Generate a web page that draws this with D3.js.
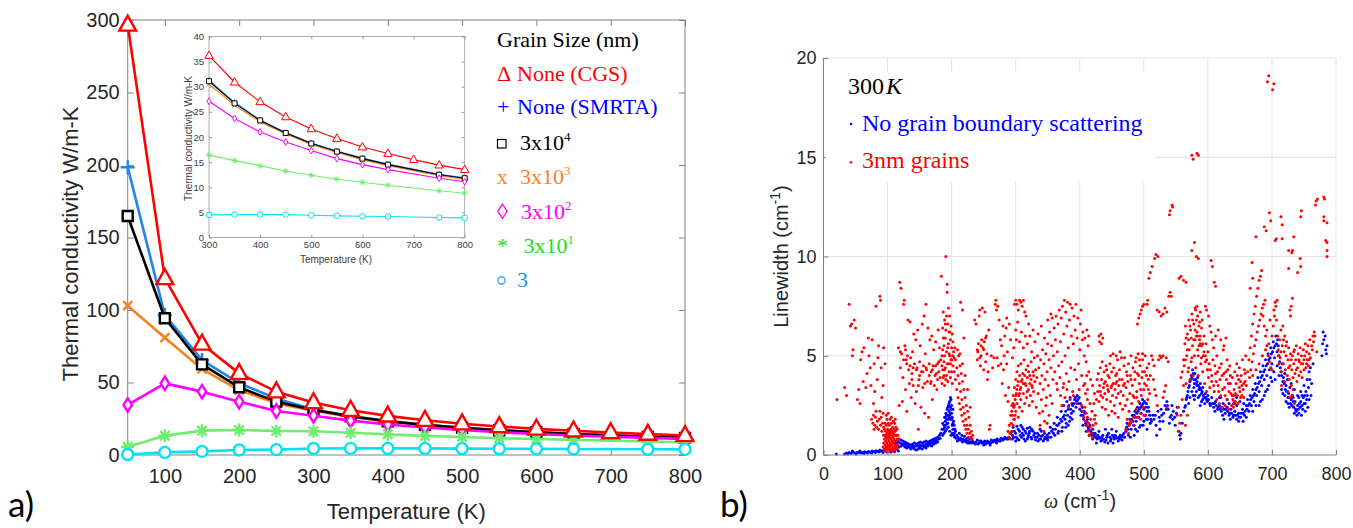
<!DOCTYPE html>
<html><head><meta charset="utf-8">
<script src="https://cdn.jsdelivr.net/npm/d3@7/dist/d3.min.js"></script>
<style>html,body{margin:0;padding:0;background:#fff;}svg{display:block;}</style>
</head><body>
<svg id="chart" width="1353" height="528"></svg>
<script>
// ================= Panel a) data =================
const temperatures = [50,100,150,200,250,300,350,400,450,500,550,600,650,700,750,800];
const kNoneCGS   = [296.6,121.8,76.6,56.3,43.7,36.2,30.9,27.0,24.0,21.6,19.7,18.0,16.7,15.5,14.4,13.5];
const kNoneSMRTA = [198.5,96.5,65.5,49.5,39.0,31.3,26.9,23.4,20.9,18.8,17.2,15.8,14.6,null,12.6,11.9];
const k3e4 = [164.8,94.3,62.5,46.7,36.8,31.1,26.7,23.3,20.8,18.7,17.1,15.7,14.5,null,12.5,11.8];
const k3e3 = [103.0,80.9,59.3,44.8,35.6,30.5,26.3,23.0,20.6,18.5,16.9,15.5,14.3,null,12.3,11.6];
const k3e2 = [34.5,49.4,43.7,36.8,30.3,27.1,23.7,21.0,19.0,17.3,15.7,14.5,13.5,null,11.8,11.1];
const k3e1 = [5.7,13.3,16.8,17.2,16.6,16.4,15.3,14.3,13.2,12.4,11.6,11.0,10.4,null,9.3,8.8];
const k3   = [0.3,1.8,2.5,3.4,3.7,4.5,4.56,4.56,4.56,4.43,4.3,4.23,4.17,null,3.97,3.9];

const mainTicksX  = [100,200,300,400,500,600,700,800];
const mainTicksY  = [0,50,100,150,200,250,300];
const insetTicksX = [300,400,500,600,700,800];
const insetTicksY = [0,5,10,15,20,25,30,35,40];
const legendTitleA = "Grain Size (nm)";
const legendLabelsA = [["None (CGS)",""],["None (SMRTA)",""],["3x10","4"],["3x10","3"],["3x10","2"],["3x10","1"],["3",""]];
const legendSymbolsA = ["\u0394","+","","x","\u25CA","*",""];

// ================= Panel b) data =================
const tickB_X = [0,100,200,300,400,500,600,700,800];
const tickB_Y = [0,5,10,15,20];
const legendLabelsB = ["No grain boundary scattering","3nm grains"];

const noGrainBoundary = [
[20,0.05],[33,0.05],[36,0.1],[40,0.12],[43,0.08],[46,0.15],[49,0.1],[52,0.12],[55,0.14],[58,0.1],[61,0.13],[64,0.16],[67,0.12],[70,0.18],[73,0.15],[76,0.2],[79,0.17],[82,0.22],[85,0.18],[88,0.25],[91,0.2],[94,0.24],[97,0.22],[100,0.25],[103,0.2],[106,0.27],[109,0.25],[112,0.3],[115,0.28],
[38,0.05],[45,0.2],[51,0.05],[57,0.2],[63,0.08],[69,0.1],[75,0.1],[81,0.12],[87,0.15],[93,0.12],[99,0.15],[105,0.15],[111,0.18],[117,0.2],
[112,0.55],[115,0.7],[118,0.8],[121,0.75],[124,0.7],[127,0.65],[130,0.6],[133,0.55],[136,0.5],[139,0.55],[142,0.6],[145,0.55],[148,0.6],[151,0.65],[154,0.6],[157,0.65],[160,0.7],[163,0.65],[166,0.7],[169,0.75],[172,0.8],[175,0.85],[178,0.9],[181,1.0],
[118,0.4],[121,0.45],[124,0.5],[127,0.4],[130,0.35],[133,0.4],[136,0.3],[139,0.35],[142,0.3],[145,0.25],[148,0.3],[151,0.35],[154,0.3],[157,0.4],[160,0.35],[163,0.45],[166,0.5],[169,0.45],[172,0.55],[175,0.6],[178,0.65],[140,0.45],[150,0.5],[160,0.55],[170,0.6],
[114,0.6],[117,0.65],[120,0.6],[123,0.55],[126,0.55],[129,0.5],[132,0.45],[135,0.4],[138,0.45],[141,0.4],[144,0.45],[147,0.45],[150,0.4],[153,0.45],[156,0.5],[159,0.45],[162,0.55],[165,0.6],[168,0.6],[171,0.7],[174,0.7],[177,0.75],[180,0.8],[182,0.85],
[183,1.1],[185,1.3],[186,1.6],[188,1.5],[189,1.9],[190,1.7],[191,2.1],[192,1.8],[193,2.3],[194,2.0],[195,2.5],[196,2.2],[197,2.7],[198,2.4],[199,2.8],[200,2.5],[200,2.1],[201,1.9],[202,2.3],[203,1.7],[204,1.5],[205,1.3],[206,1.2],[195,1.4],[197,1.2],[199,1.0],[201,1.1],[203,1.0],[205,0.9],[192,1.3],[190,1.2],[188,1.1],[186,1.0],[194,1.6],[198,1.8],[202,1.6],
[187,1.3],[189,1.4],[191,1.5],[193,1.6],[195,1.8],[196,1.9],[197,2.0],[198,2.1],[199,2.3],[200,1.8],[201,1.5],[202,1.3],[204,1.1],[196,2.6],[198,2.9],[194,2.4],[192,2.0],[190,1.9],
[208,1.0],[210,0.9],[212,1.1],[214,0.85],[216,1.0],[218,0.8],[220,0.95],[222,0.75],[224,0.85],[226,0.7],[228,0.8],[230,0.65],[209,0.7],[213,0.75],[217,0.65],[221,0.7],[225,0.6],
[207,0.85],[211,0.8],[215,0.75],[219,0.7],[223,0.65],[227,0.6],[231,0.6],[234,0.65],[237,0.55],[243,0.6],[246,0.7],[249,0.6],[252,0.7],[255,0.6],[258,0.65],[261,0.6],[264,0.7],[267,0.75],[270,0.7],[273,0.75],[276,0.7],[279,0.8],[282,0.8],[285,0.85],[288,0.8],
[232,0.7],[235,0.6],[238,0.65],[241,0.55],[244,0.7],[247,0.6],[250,0.65],[253,0.55],[256,0.7],[259,0.6],[262,0.75],[265,0.65],[268,0.7],[271,0.8],[274,0.7],[277,0.85],[280,0.75],[283,0.9],[286,0.8],[240,0.75],[250,0.5],[260,0.5],[270,0.6],
[289,0.9],[292,1.1],[295,0.8],[298,1.2],[301,0.9],[304,1.3],[307,1.0],[310,1.4],[313,0.8],[316,1.1],[319,0.9],[322,1.2],[325,0.8],[328,1.0],[331,0.75],[334,1.1],[337,0.8],[340,0.95],[343,0.7],[346,0.9],[349,1.0],[295,1.0],[300,0.7],[305,0.75],[310,1.1],[315,0.7],[320,1.0],[325,1.3],[330,0.9],[335,0.7],[340,1.2],[345,0.8],[350,0.75],[312,1.3],[318,1.35],[302,1.45],
[291,0.85],[294,1.2],[297,0.9],[300,1.1],[303,0.8],[306,1.2],[309,0.9],[312,1.0],[315,1.2],[318,0.8],[321,1.1],[324,0.9],[327,1.2],[330,1.1],[333,0.9],[336,1.0],[339,0.8],[342,1.0],[345,1.1],[348,0.85],[351,0.9],[296,1.4],[308,1.5],[322,1.4],[338,1.3],
[352,1.1],[355,0.9],[358,1.3],[361,1.0],[364,1.5],[367,1.2],[370,1.8],[373,1.4],[376,2.0],[379,1.6],[382,2.3],[385,1.9],[388,2.6],[390,2.2],[392,2.8],[394,2.4],[396,3.0],[398,2.6],[400,2.3],[371,2.2],[375,2.5],[380,2.7],[385,2.9],[360,1.6],[365,1.9],[354,1.4],[382,1.5],[388,1.8],
[356,1.2],[359,1.1],[362,1.3],[366,1.5],[368,1.6],[372,1.7],[374,1.9],[377,1.8],[378,2.2],[381,2.0],[383,2.5],[386,2.3],[387,2.1],[389,2.5],[391,2.6],[393,2.9],[395,2.7],[397,2.8],[399,2.9],[384,1.7],[378,1.4],[372,1.2],[366,1.1],
[402,2.0],[404,2.4],[406,1.8],[408,2.1],[410,1.5],[412,1.8],[414,1.3],[416,1.5],[418,1.1],[420,1.3],[422,0.9],[405,1.5],[410,1.2],[415,1.0],[420,0.8],
[401,2.6],[403,2.2],[405,2.0],[407,2.2],[409,1.6],[411,1.7],[413,1.4],[417,1.2],[419,1.0],[421,1.1],[423,1.0],[425,0.9],[428,1.0],[431,0.85],[434,0.9],[437,0.8],[441,0.75],[443,1.0],[447,0.9],[449,0.8],[453,0.9],[455,1.0],[458,0.85],[462,0.8],[465,0.9],[467,1.0],[470,0.9],
[424,1.1],[427,0.8],[430,1.2],[433,0.7],[436,1.0],[439,0.65],[442,0.9],[445,1.1],[448,0.7],[451,1.0],[454,0.8],[457,1.2],[460,0.7],[463,1.0],[466,0.75],[469,1.1],[426,0.6],[435,0.75],[444,0.6],[452,0.6],[461,0.9],[440,1.3],[450,1.3],[430,0.9],[456,0.95],
[472,1.2],[474,1.6],[476,1.0],[478,1.8],[480,1.3],[482,2.0],[484,1.5],[486,2.2],[488,1.7],[490,2.4],[492,1.9],[494,2.6],[496,2.1],[498,2.8],[500,2.3],[502,2.0],[504,2.6],[506,1.8],[508,2.2],[510,1.6],[490,1.2],[495,1.5],[500,1.7],[485,1.0],[505,1.3],[479,0.9],
[473,1.4],[475,1.3],[477,1.5],[479,1.6],[481,1.8],[483,1.7],[485,2.0],[487,1.9],[489,2.1],[491,2.2],[493,2.3],[495,2.4],[497,2.5],[499,2.6],[501,2.7],[503,2.4],[505,2.2],[507,2.4],[509,2.0],[511,1.8],[487,1.3],[493,1.4],[499,1.5],[504,1.8],
[514,2.0],[516,1.8],[519,1.5],[522,2.2],[525,1.3],[528,2.0],[530,1.7],[533,2.5],[536,2.7],[538,2.3],[540,1.6],[543,2.0],[546,2.2],[549,1.5],[552,2.4],[554,1.2],[556,1.0],[557,0.8],[558,1.1],[560,1.6],[562,2.2],[520,1.0],[525,1.7],
[512,1.7],[518,2.0],[524,1.9],[527,2.3],[531,2.1],[535,2.3],[537,2.5],[541,1.9],[545,1.8],[548,1.9],[551,2.1],[544,2.5],
[564,2.4],[566,2.8],[568,3.0],[570,3.4],[572,3.7],[574,4.0],[576,4.3],[578,3.8],[580,4.1],[582,3.6],[584,3.9],[586,3.3],[588,3.6],[590,3.1],[592,3.4],[594,2.9],[596,3.1],[598,2.8],[600,3.0],[575,3.2],[580,3.0],[585,2.9],[590,2.7],[570,2.6],[595,2.6],[578,3.4],[583,3.5],
[565,2.5],[567,2.9],[569,3.2],[571,3.5],[573,3.8],[575,3.9],[577,4.1],[579,3.6],[581,3.8],[583,3.7],[585,3.5],[587,3.4],[589,3.3],[591,3.2],[593,3.0],[597,2.9],[599,2.7],[577,3.0],[582,3.2],[587,3.0],[592,2.8],[572,2.9],[579,2.8],[588,2.5],
[603,2.6],[606,2.9],[609,2.4],[612,2.7],[615,2.3],[618,2.5],[621,2.2],[624,2.6],[627,2.1],[630,2.4],[633,2.0],[636,2.3],[639,1.9],[642,2.2],[645,1.8],[648,2.1],[651,1.9],[654,2.3],[657,2.0],[660,2.5],[620,2.9],[630,2.8],[640,2.6],[650,2.7],[625,1.8],[645,2.5],[655,1.7],
[601,2.8],[604,2.5],[607,2.6],[610,2.6],[613,2.5],[616,2.4],[619,2.3],[622,2.4],[625,2.3],[628,2.3],[631,2.2],[634,2.1],[637,2.1],[640,2.0],[643,2.0],[646,2.0],[649,1.9],[652,2.1],[655,2.1],[658,2.2],[611,2.2],[623,2.0],[635,1.8],[648,1.7],[660,1.9],[618,2.9],[633,2.6],[645,2.9],[656,2.6],
[662,2.8],[664,2.2],[666,3.0],[668,2.5],[670,3.3],[672,2.7],[674,3.6],[676,3.0],[678,3.9],[680,3.2],[682,4.2],[684,3.5],[686,4.5],[688,3.8],[690,4.8],[692,4.0],[694,5.1],[696,4.3],[698,5.4],[700,4.6],[702,5.7],[704,4.9],[706,6.0],[708,5.2],[710,5.5],[685,2.8],[690,3.2],[695,3.5],[700,3.7],[680,2.5],[670,2.2],
[661,2.3],[663,2.5],[665,2.6],[667,2.8],[669,2.9],[671,3.0],[673,3.1],[675,3.3],[677,3.4],[679,3.6],[681,3.7],[683,3.9],[685,4.0],[687,4.2],[689,4.3],[691,4.5],[693,4.6],[695,4.8],[697,4.9],[699,5.1],[701,5.2],[703,5.4],[705,5.5],[707,5.6],[709,5.8],[675,2.5],[682,2.7],[688,3.0],[693,3.3],[698,3.9],[703,4.2],[708,4.5],[705,3.8],[711,4.0],[711,5.0],
[712,4.7],[714,4.2],[716,4.6],[718,3.9],[720,4.1],[722,3.5],[724,3.8],[726,3.1],[728,3.4],[730,2.8],[732,3.0],[734,2.4],[736,2.7],[738,2.2],[740,2.5],[742,2.1],[744,2.4],[746,2.0],[748,2.3],[750,2.6],[752,2.2],[754,2.8],[756,2.4],[715,3.3],[720,3.0],[725,2.6],[730,3.6],[735,3.3],[740,3.0],[745,3.2],[750,3.5],[755,3.8],[758,4.2],[760,4.4],[762,3.6],[764,4.6],
[713,4.4],[715,4.0],[717,3.7],[719,3.6],[721,3.3],[723,3.2],[725,2.9],[727,2.9],[729,2.6],[731,2.5],[733,2.7],[735,2.1],[737,2.3],[739,2.0],[741,2.3],[743,2.6],[745,2.7],[747,2.5],[749,2.9],[751,3.0],[753,3.2],[755,3.0],[757,3.4],[759,3.8],[761,3.0],[717,3.1],[722,2.7],[727,2.4],[733,2.9],[742,2.9],[747,3.0],[752,2.6],[758,2.8],
[778,5.0],[779,5.6],[780,6.2],[781,5.8],[783,6.0],[784,5.3],[785,5.1],[786,5.5]
];

const grains3nm = [
[21,2.8],[33,3.4],[36,3.0],[40,7.6],[42,6.5],[44,6.6],[45,5.0],[46,5.3],[48,6.8],[50,6.4],[53,2.8],[55,3.3],[57,2.6],[58,4.8],[60,5.2],[62,3.7],[63,5.4],[66,3.4],[68,4.1],[70,5.9],[71,5.0],[73,4.4],[74,3.5],[76,5.8],[78,2.6],[79,4.6],[80,3.2],[82,7.5],[84,3.8],[85,4.9],[86,5.5],[88,8.0],[89,7.8],[90,4.4],[91,2.9],[93,3.5],[94,5.4],[96,4.6],
[75,1.8],[77,1.6],[78,2.0],[80,1.5],[81,1.9],[83,1.4],[84,1.7],[86,1.3],[87,1.8],[88,2.2],[89,1.5],[90,1.9],[91,1.2],[92,1.6],[93,2.1],[94,1.4],[79,1.3],[82,2.2],
[95,0.3],[95,0.8],[95,1.3],[96,0.5],[96,1.0],[96,1.6],[97,0.3],[97,0.7],[97,1.2],[98,0.4],[98,0.9],[98,1.5],[99,0.2],[99,0.6],[99,1.1],[99,1.8],[100,0.3],[100,0.8],[100,1.3],[101,0.5],[101,1.0],[101,1.6],[102,0.2],[102,0.7],[102,1.2],[103,0.4],[103,0.9],[103,1.5],[104,0.3],[104,0.6],[104,1.1],[104,1.8],[105,0.2],[105,0.8],[105,1.3],[106,0.5],[106,1.0],[106,1.6],[107,0.3],[107,0.7],[107,1.2],[108,0.4],[108,0.9],[108,1.4],[109,0.2],[109,0.6],[109,1.1],[110,0.4],[110,0.8],[110,1.3],[111,0.3],[111,1.0],[111,1.6],[112,0.5],[112,1.2],[113,0.7],[113,1.4],[114,0.4],[114,1.0],[115,0.8],[115,1.3],[98,2.0],[101,2.1],[106,1.9],[109,1.7],[112,1.8],
[96,0.2],[97,1.0],[99,0.4],[100,1.0],[102,0.4],[103,1.1],[105,0.5],[106,1.2],[108,0.2],[110,0.6],[111,0.7],[113,0.3],[113,1.0],[114,0.7],[116,0.5],[116,1.0],[94,0.6],[94,1.0],[93,0.4],[117,0.8],
[117,5.4],[118,2.5],[119,8.7],[120,4.4],[121,8.4],[122,5.1],[123,2.7],[124,3.9],[125,7.6],[126,7.8],[127,5.5],[128,3.3],[129,4.8],[130,2.2],[131,5.0],[132,6.8],[133,4.3],[134,3.6],[135,6.7],[136,4.9],[137,2.9],[138,4.1],[139,5.2],[140,3.5],[141,6.1],[142,4.6],[143,2.6],[144,5.8],[145,3.2],[146,4.4],[147,6.3],[148,1.3],[149,3.8],[150,4.7],[151,5.5],[152,2.4],[153,4.2],[154,6.6],[155,3.4],[156,4.5],[157,7.0],[158,2.1],[159,5.1],[160,7.6],[161,4.3],[162,3.7],[163,6.4],[164,1.9],[165,4.6],[166,5.8],[167,3.6],[168,4.2],[169,6.0],[170,2.8],[171,4.5],[172,5.3],[173,3.5],[174,4.0],[175,5.7],[176,4.1],[177,3.3],[178,4.6],[179,6.3],[180,4.2],[181,5.4],[182,3.9],[183,4.8],[184,9.0],
[140,4.4],[145,4.3],[150,4.0],[155,4.2],[160,4.4],[165,4.0],[170,4.3],[175,4.5],[180,4.7],[130,4.6],[135,4.5],[125,4.8],[120,5.2],[128,5.3],[138,3.8],[148,3.5],[158,3.6],[168,3.7],[178,3.8],
[185,3.6],[185,5.0],[186,6.4],[186,4.3],[187,7.2],[187,3.9],[188,5.5],[188,4.7],[189,6.8],[189,3.5],[190,5.9],[190,4.4],[191,10.0],[191,6.3],[191,3.8],[192,7.0],[192,5.2],[193,8.6],[193,4.6],[193,8.2],[194,6.6],[194,3.7],[195,7.4],[195,5.6],[196,6.2],[196,4.2],[197,7.0],[197,5.0],[198,5.8],[198,3.9],[199,6.5],[199,4.8],[200,5.4],[200,4.2],[201,6.1],[201,3.6],[202,5.7],[202,4.5],[203,5.2],[204,4.9],[205,5.4],
[185,4.5],[186,5.3],[187,5.9],[188,4.0],[189,5.0],[190,6.6],[192,4.0],[194,5.4],[196,5.1],[198,4.6],[200,4.8],[202,5.0],[189,4.3],[195,4.6],[197,6.2],
[204,4.2],[206,4.8],[206,3.8],[208,4.4],[208,3.3],[210,4.0],[210,2.9],[211,5.0],[212,3.6],[212,2.6],[213,4.5],[214,3.2],[214,2.3],[215,4.1],[216,2.8],[216,2.0],[217,3.7],[218,2.4],[218,1.7],[219,3.3],[220,2.1],[220,1.5],[221,2.9],[222,1.8],[222,1.3],[223,2.5],[224,1.5],[224,1.1],[225,2.2],[226,1.3],[226,0.9],[227,1.9],[228,1.1],[229,1.5],[230,0.9],[231,1.2],[232,0.8],[233,1.0],[209,5.3],[213,5.1],[217,4.6],[221,4.0],[225,3.3],[229,2.4],[214,7.7],[217,7.3],[219,5.9],
[236,6.8],[238,6.6],[240,4.8],[241,5.2],[242,5.6],[243,7.0],[244,7.3],[245,4.5],[246,5.0],[247,5.8],[248,7.4],[249,5.4],[250,4.3],[251,5.7],[252,7.2],[253,4.7],[254,6.0],[255,5.1],[256,3.8],[257,4.2],[258,6.3],[259,1.3],[260,1.5],[262,5.0],[264,4.4],[266,4.9],[268,7.6],[269,7.8],[270,7.3],[271,4.9],[272,7.5],[273,4.5],[274,6.8],[276,5.8],[277,4.6],[278,5.5],[279,3.6],[280,6.5],[281,4.3],[282,5.0],[283,6.0],[284,3.0],[285,6.4],[286,4.6],[287,5.2],[288,2.7],[289,3.4],[246,5.5],[250,5.3],[244,4.9],[253,5.9],[240,5.3],
[288,1.2],[289,0.9],[290,1.5],[291,1.1],[292,2.0],[292,0.8],[293,1.6],[294,2.5],[294,1.2],[295,2.0],[296,3.0],[296,1.5],[297,2.4],[298,3.4],[298,1.8],[299,2.8],[300,3.8],[300,2.2],[301,3.1],[302,4.2],[302,2.6],[303,3.5],[304,4.5],[304,1.9],[305,3.0],[306,4.0],[306,2.4],[307,3.3],[308,4.6],[308,2.8],[309,3.7],[310,2.2],[311,4.1],[312,3.1],[313,4.8],[314,2.6],[315,3.6],[316,4.3],[317,2.9],[318,3.9],[319,4.5],[320,3.3],[321,2.5],[322,4.0],[323,3.0],[324,4.7],[325,3.5],[326,2.7],[327,4.2],[328,3.2],[329,4.9],[330,3.7],
[300,3.0],[302,3.3],[304,3.7],[306,3.1],[308,3.4],[310,3.8],[312,3.6],[314,4.0],[316,3.5],[318,3.2],[320,4.2],[322,3.6],[324,3.8],[326,3.4],[328,4.0],[296,2.6],[298,2.5],[294,2.2],[297,1.8],[299,2.0],
[298,7.6],[300,7.8],[302,7.6],[304,7.3],[306,7.8],[308,7.7],[310,7.5],[312,7.8],[314,7.2],[300,6.3],[303,6.7],[306,5.7],[309,6.2],[312,5.4],[297,5.4],[295,4.9],[301,5.8],[315,6.0],[318,5.6],[320,6.6],[322,6.0],[316,7.0],[325,5.2],[327,6.3],[330,5.7],[290,6.6],[292,5.8],[286,6.9],
[331,4.3],[332,2.4],[333,3.9],[334,5.0],[335,3.1],[336,4.4],[337,2.1],[338,3.6],[339,4.8],[340,2.8],[341,4.0],[342,5.3],[343,3.3],[344,4.6],[345,1.7],[346,3.8],[347,5.1],[348,2.9],[349,4.2],[350,5.6],[351,3.5],[352,4.8],[353,6.2],[354,3.0],[355,4.4],[356,5.5],[357,6.9],[358,3.8],[359,5.0],[360,6.4],[335,6.1],[340,6.5],[345,5.9],[350,6.8],[355,7.1],[342,2.2],[347,2.5],[352,2.0],[357,2.6],[338,1.5],[344,1.2],[349,1.6],
[361,4.2],[362,5.8],[363,7.0],[364,3.6],[365,5.2],[366,6.6],[367,4.5],[368,7.3],[369,3.9],[370,5.7],[371,6.9],[372,4.7],[373,7.5],[374,3.4],[375,6.1],[376,7.8],[377,5.0],[378,7.2],[379,4.1],[380,6.5],[381,7.7],[382,5.4],[383,3.7],[384,6.8],[385,7.6],[386,4.4],[387,6.0],[388,7.4],[389,3.2],[390,5.6],[391,7.0],[392,4.3],[393,6.3],[394,7.6],[395,3.8],[396,5.9],[397,6.9],[398,4.6],[399,3.3],[400,5.3],[401,6.6],[402,7.3],[403,4.0],[404,5.8],[405,6.2],[406,3.5],[407,5.0],[408,5.9],[409,3.1],[410,4.7],[411,6.3],[412,2.8],[413,5.5],[414,6.0],[365,3.3],[370,3.0],[375,3.6],[380,3.3],[385,2.8],[390,3.0],[395,2.6],[372,2.5],[382,2.4],[377,2.9],
[403,2.5],[405,2.2],[406,1.9],[408,2.4],[409,1.7],[410,2.1],[411,1.5],[412,1.9],[413,1.2],[414,1.6],[415,1.0],[416,1.4],[417,1.8],[418,1.1],[419,2.2],[420,0.9],[421,1.5],[422,2.6],[423,1.8],[420,3.5],[423,3.1],[426,2.8],[417,3.8],[414,4.2],[411,4.0],[424,2.0],[425,1.6],[416,2.6],[408,3.6],[412,3.3],[430,6.0],[431,5.7],[433,6.1],[434,5.6],[436,5.9],
[427,3.8],[428,3.2],[429,4.1],[430,2.7],[431,3.5],[432,4.4],[433,3.0],[434,3.8],[435,4.7],[436,2.9],[437,3.4],[438,4.2],[439,3.1],[440,3.7],[441,4.5],[442,2.8],[443,3.5],[444,4.0],[445,3.2],[446,3.9],[447,4.6],[448,2.7],[449,3.4],[450,4.2],[451,3.0],[452,3.6],[453,4.4],[454,2.5],[455,3.3],[456,4.0],[457,2.9],[458,3.7],[459,4.8],[460,3.1],[461,3.5],[462,4.3],[463,2.6],[464,3.2],[465,4.9],[466,3.8],[467,2.3],[468,3.0],[469,4.5],[470,3.6],[440,2.3],[445,2.0],[450,2.2],[455,2.1],[460,1.9],[435,2.4],[448,5.0],[452,5.1],[463,5.2],[457,5.0],[472,1.3],[474,1.8],[476,1.1],[478,1.6],
[432,3.2],[438,3.6],[444,3.3],[450,3.5],[456,3.6],[462,3.8],[468,3.5],[474,4.0],[480,3.8],[486,4.2],[492,4.0],[498,4.2],[504,4.0],[442,4.3],[458,4.1],[483,3.0],[489,2.9],[495,3.3],[501,3.6],[507,3.3],
[471,2.5],[472,3.4],[473,4.2],[474,2.8],[475,3.7],[476,4.6],[477,2.2],[478,3.1],[479,4.0],[480,5.0],[481,2.6],[482,3.5],[483,4.4],[484,1.9],[485,2.9],[486,3.8],[487,4.7],[488,2.3],[489,3.2],[490,4.1],[491,5.1],[492,2.7],[493,3.6],[494,4.5],[495,1.8],[496,3.0],[497,3.9],[498,4.8],[499,2.4],[500,3.3],[501,4.2],[502,5.0],[503,2.0],[504,3.5],[505,4.4],[506,2.8],[507,3.8],[508,4.6],[509,3.1],[510,4.0],[476,1.5],[480,1.7],[485,1.5],[490,1.9],[495,2.1],[500,2.0],[488,4.9],[493,4.8],[498,5.1],[470,4.9],
[490,6.6],[492,6.9],[494,7.1],[496,7.3],[498,7.5],[500,7.6],[505,7.6],[506,7.8],[508,8.9],[510,9.2],[513,9.5],[517,9.9],[519,10.1],[522,10.0],[521,7.3],[524,7.2],[527,7.0],[530,7.1],[533,7.4],[536,7.2],[539,8.0],[541,8.2],[543,8.0],[540,12.1],[541,12.3],[544,12.6],[545,12.5],[555,8.9],[558,9.0],[562,8.8],[566,8.7],[512,5.0],[514,4.8],[516,4.5],[515,3.8],[517,3.3],[519,3.0],[521,2.5],[523,4.8],[525,5.0],[527,4.9],[530,5.0],[535,4.9],[538,4.7],[530,2.9],[532,3.2],[534,3.5],[536,2.4],[552,2.0],[554,2.4],[556,1.6],[558,2.0],[560,2.8],[562,3.5],[555,1.2],[565,1.5],[568,2.0],
[563,4.5],[564,5.6],[565,6.5],[566,3.6],[567,5.0],[568,6.1],[569,4.2],[570,6.8],[571,5.3],[572,3.8],[573,6.3],[574,4.7],[575,7.1],[576,5.5],[577,4.0],[578,6.6],[579,5.0],[580,7.4],[581,4.4],[582,6.0],[583,7.5],[584,5.3],[585,4.0],[586,6.5],[587,5.8],[588,7.2],[589,4.6],[590,5.5],[591,6.8],[592,4.2],[593,5.0],[594,6.0],[595,3.6],[596,4.7],[597,5.6],[598,3.2],[599,4.3],[600,5.2],[601,3.9],[602,4.6],[603,3.4],[585,5.0],[588,5.6],[590,4.9],[580,5.8],[575,4.9],[570,4.4],[565,4.8],[583,6.2],[587,6.7],[560,4.2],[562,4.8],[558,3.9],
[566,5.9],[568,5.3],[570,5.8],[572,6.5],[574,5.9],[576,6.8],[578,5.8],[580,6.3],[582,6.8],[584,6.0],[586,5.5],[588,6.0],[590,6.4],[592,5.6],[594,5.2],[596,5.0],[598,4.8],[600,4.3],[584,7.0],[581,7.3],
[575,10.3],[579,10.7],[582,10.0],[585,9.9],[575,15.1],[577,14.9],[583,15.2],[585,15.1],[605,9.8],[607,9.5],[610,8.7],[612,8.5],[596,7.5],[598,7.3],[601,7.0],[603,6.5],[605,6.2],[607,5.8],[609,5.4],
[604,4.3],[606,3.7],[608,4.8],[610,3.2],[612,4.1],[614,5.0],[616,3.5],[618,4.4],[620,3.0],[622,4.0],[624,5.3],[626,3.4],[628,4.2],[630,2.8],[632,3.6],[634,4.5],[636,3.1],[637,2.5],[638,3.9],[639,2.8],[640,2.4],[641,3.3],[642,4.2],[643,2.7],[644,3.6],[645,4.6],[646,3.0],[647,2.6],[648,3.8],[649,4.4],[650,3.2],[651,2.9],[652,4.0],[653,3.5],[654,4.8],[655,3.3],[656,2.9],[657,4.3],[658,3.7],[659,5.0],[660,3.5],[620,5.8],[625,5.5],[630,4.8],[635,4.0],[618,2.6],[622,2.4],[627,2.5],[633,2.3],[614,2.8],[612,6.0],[616,6.3],[628,5.9],
[606,4.0],[609,3.5],[611,4.5],[613,3.7],[615,4.2],[617,3.2],[619,3.8],[621,4.6],[623,3.3],[625,4.1],[627,3.0],[629,3.8],[631,4.3],[633,3.2],[635,3.6],[638,3.0],[641,2.7],[644,3.0],[646,4.0],[649,3.4],[651,3.7],[653,3.0],[656,3.6],[658,4.1],[640,3.0],[642,2.6],[643,3.1],
[662,4.2],[664,4.8],[665,3.9],[666,5.4],[667,4.3],[668,6.0],[669,4.7],[670,6.6],[671,5.1],[672,7.1],[673,5.5],[674,7.5],[675,5.8],[676,8.0],[677,6.2],[678,8.4],[679,6.5],[680,8.8],[681,6.8],[682,9.0],[683,7.1],[684,9.3],[685,7.4],[686,7.0],[687,7.6],[688,6.5],[689,7.8],[690,6.0],[692,5.5],[694,5.0],[696,4.7],[698,4.4],[700,4.3],[670,4.0],[675,4.3],[680,4.6],[685,5.0],[690,5.3],[695,5.6],[700,6.0],[702,6.5],[704,7.0],[706,7.5],[708,7.8],[703,7.3],[705,7.7],[707,6.8],[692,6.3],[697,6.8],
[666,8.4],[669,9.7],[670,8.9],[675,11.0],[688,11.5],[691,11.3],[696,12.2],[698,11.8],[705,10.8],[707,10.9],[714,12.0],[716,11.6],[716,10.9],[726,10.3],[726,9.4],[731,10.2],[732,10.3],[734,11.0],[740,9.2],[744,9.9],[745,9.5],[746,12.3],[745,12.0],[729,7.0],[730,7.5],[732,7.9],[728,7.3],
[695,19.1],[693,18.8],[703,18.7],[701,18.4],
[709,6.0],[710,5.3],[711,4.6],[712,5.8],[713,4.9],[714,6.3],[715,4.2],[716,5.5],[717,6.5],[718,4.6],[719,5.2],[720,6.0],[721,4.3],[722,5.0],[723,5.7],[724,4.0],[725,4.8],[726,5.4],[727,3.8],[728,4.5],[729,5.1],[730,3.5],[731,4.3],[732,5.0],[733,3.9],[734,4.6],[735,5.3],[736,4.1],[737,4.8],[738,5.5],[739,3.7],[740,4.4],[741,5.1],[742,4.0],[743,4.7],[744,5.4],[745,4.2],[746,5.0],[747,3.9],[748,4.6],[749,5.3],[750,4.3],[751,5.0],[752,5.6],[753,4.4],[754,5.2],[755,4.8],[756,5.5],[757,4.5],[758,5.1],[759,5.8],[760,4.9],[762,5.5],[764,6.0],[765,5.7],[766,6.2],[725,3.2],[728,2.9],[731,3.0],[735,2.6],[733,3.3],[720,3.7],[715,3.5],
[718,5.8],[722,5.5],[726,4.4],[730,4.8],[734,5.2],[738,4.3],[742,4.8],[746,4.6],[750,4.8],[754,4.6],[758,4.8],[710,5.0],[714,5.2],
[763,5.3],[767,6.0],[770,5.2],[768,12.6],[769,12.8],[771,12.9],[781,13.0],[782,12.9],[781,12.0],[781,11.8],[786,11.7],[786,10.7],[786,10.3],[786,10.0],[784,10.8]
];

// ================= rendering =================
const svg = d3.select('#chart');
const SANS = "'Liberation Sans', Arial, Helvetica, sans-serif";
const SERIF = "'Liberation Serif', 'Times New Roman', serif";
const AXIS = '#808080', TXT = '#262626';

function markerPath(type, s) {
  const h = s / 2;
  switch (type) {
    case 'tri': return `M0,${-s*0.62}L${s*0.56},${s*0.38}L${-s*0.56},${s*0.38}Z`;
    case 'plus': return `M${-h},0H${h}M0,${-h}V${h}`;
    case 'sq': return `M${-h},${-h}H${h}V${h}H${-h}Z`;
    case 'x': return `M${-h},${-h}L${h},${h}M${-h},${h}L${h},${-h}`;
    case 'dia': return `M0,${-h*1.35}L${h*0.85},0L0,${h*1.35}L${-h*0.85},0Z`;
    case 'ast': { const d = h*0.72; return `M${-h},0H${h}M0,${-h}V${h}M${-d},${-d}L${d},${d}M${-d},${d}L${d},${-d}`; }
    case 'circ': return `M${h},0A${h},${h} 0 1,1 ${-h},0A${h},${h} 0 1,1 ${h},0Z`;
  }
}
const filled = {tri:true, sq:true, dia:true, circ:true};

const seriesA = [
  {vals: kNoneSMRTA, color:'#1f86ee', marker:'plus', mS:14, iS:6},
  {vals: k3e3, color:'#f5821f', marker:'x', mS:9, iS:5},
  {vals: k3e4, color:'#000000', marker:'sq', mS:10, iS:5},
  {vals: k3e2, color:'#ff00ff', marker:'dia', mS:10, iS:5},
  {vals: k3e1, color:'#70ec70', marker:'ast', mS:13, iS:6},
  {vals: k3,   color:'#00e4f2', marker:'circ', mS:11, iS:5.6},
  {vals: kNoneCGS, color:'#ff0000', marker:'tri', mS:15, iS:7.5}
];
function pts(vals, minT) {
  return temperatures.map((t,i)=>({t, v: vals[i]})).filter(d => d.v != null && d.t >= minT);
}

// ---------- Panel a main axes ----------
const xA = d3.scaleLinear().domain([50,800]).range([127.7,685]);
const yA = d3.scaleLinear().domain([0,300]).range([455,20]);
const gA = svg.append('g');

function styleAxis(g, size) {
  g.select('.domain').remove();
  g.selectAll('.tick line').attr('stroke', AXIS).attr('stroke-width', 1);
  g.attr('font-family', SANS).attr('font-size', size);
  g.selectAll('.tick text').attr('fill', TXT);
}
gA.append('rect').attr('x', xA(50)).attr('y', yA(300)).attr('width', xA(800)-xA(50)).attr('height', yA(0)-yA(300))
  .attr('fill','none').attr('stroke', AXIS).attr('stroke-width',1);
gA.append('g').attr('transform',`translate(0,${yA(0)})`)
  .call(d3.axisBottom(xA).tickValues(mainTicksX).tickSizeInner(-6).tickSizeOuter(0).tickPadding(14))
  .call(g=>styleAxis(g,20));
gA.append('g').attr('transform',`translate(0,${yA(300)})`)
  .call(d3.axisTop(xA).tickValues(mainTicksX).tickSizeInner(-6).tickSizeOuter(0).tickFormat(''))
  .call(g=>styleAxis(g,20));
gA.append('g').attr('transform',`translate(${xA(50)},0)`)
  .call(d3.axisLeft(yA).tickValues(mainTicksY).tickSizeInner(-6).tickSizeOuter(0).tickPadding(8))
  .call(g=>styleAxis(g,20));
gA.append('g').attr('transform',`translate(${xA(800)},0)`)
  .call(d3.axisRight(yA).tickValues(mainTicksY).tickSizeInner(-6).tickSizeOuter(0).tickFormat(''))
  .call(g=>styleAxis(g,20));

gA.append('text').attr('transform',`translate(78,244) rotate(-90)`).attr('text-anchor','middle')
  .attr('font-family',SANS).attr('font-size',22).attr('fill',TXT).text('Thermal conductivity W/m-K');
gA.append('text').attr('x',(xA(50)+xA(800))/2).attr('y',519).attr('text-anchor','middle')
  .attr('font-family',SANS).attr('font-size',22).attr('fill',TXT).text('Temperature (K)');

const lineA = d3.line().x(d=>xA(d.t)).y(d=>yA(d.v));
seriesA.forEach(s => {
  const p = pts(s.vals, 0);
  gA.append('path').datum(p).attr('d', lineA).attr('fill','none').attr('stroke', s.color).attr('stroke-width',2.6).attr('stroke-linejoin','round');
  gA.append('g').selectAll('path').data(p).join('path')
    .attr('transform', d=>`translate(${xA(d.t)},${yA(d.v)})`)
    .attr('d', markerPath(s.marker, s.mS))
    .attr('fill', filled[s.marker] ? '#fff' : 'none')
    .attr('stroke', s.color).attr('stroke-width', 2.4);
});

// ---------- Inset ----------
const xI = d3.scaleLinear().domain([300,800]).range([209,464.7]);
const yI = d3.scaleLinear().domain([0,40]).range([237.5,36.5]);
const gI = svg.append('g');
gI.append('rect').attr('x',xI(300)).attr('y',yI(40)).attr('width',xI(800)-xI(300)).attr('height',yI(0)-yI(40))
  .attr('fill','#fff').attr('stroke','#9a9a9a').attr('stroke-width',0.8);
gI.append('g').attr('transform',`translate(0,${yI(0)})`)
  .call(d3.axisBottom(xI).tickValues(insetTicksX).tickSizeInner(-3).tickSizeOuter(0).tickPadding(4))
  .call(g=>styleAxis(g,9.5));
gI.append('g').attr('transform',`translate(0,${yI(40)})`)
  .call(d3.axisTop(xI).tickValues(insetTicksX).tickSizeInner(-3).tickSizeOuter(0).tickFormat(''))
  .call(g=>styleAxis(g,9.5));
gI.append('g').attr('transform',`translate(${xI(300)},0)`)
  .call(d3.axisLeft(yI).tickValues(insetTicksY).tickSizeInner(-3).tickSizeOuter(0).tickPadding(5))
  .call(g=>styleAxis(g,9.5));
gI.append('g').attr('transform',`translate(${xI(800)},0)`)
  .call(d3.axisRight(yI).tickValues(insetTicksY).tickSizeInner(-3).tickSizeOuter(0).tickFormat(''))
  .call(g=>styleAxis(g,9.5));
gI.selectAll('.tick line').attr('stroke','#9a9a9a');
gI.selectAll('.tick text').attr('fill','#404040');
gI.append('text').attr('transform',`translate(191.5,138.5) rotate(-90)`).attr('text-anchor','middle')
  .attr('font-family',SANS).attr('font-size',10).attr('fill','#404040').text('Thermal conductivity W/m-K');
gI.append('text').attr('x',336).attr('y',262.5).attr('text-anchor','middle')
  .attr('font-family',SANS).attr('font-size',10).attr('fill','#404040').text('Temperature (K)');
const lineI = d3.line().x(d=>xI(d.t)).y(d=>yI(d.v));
seriesA.forEach(s => {
  const p = pts(s.vals, 300);
  gI.append('path').datum(p).attr('d', lineI).attr('fill','none').attr('stroke', s.color).attr('stroke-width',1.1);
  gI.append('g').selectAll('path').data(p).join('path')
    .attr('transform', d=>`translate(${xI(d.t)},${yI(d.v)})`)
    .attr('d', markerPath(s.marker, s.iS))
    .attr('fill', filled[s.marker] ? '#fff' : 'none')
    .attr('stroke', s.color).attr('stroke-width', 1);
});

// ---------- Legend a ----------
const gL = svg.append('g').attr('font-family', SERIF).attr('font-size', 22);
const legColors = ['#ff0000','#0000ff','#000000','#ff7f1f','#ff00ff','#22dd22','#1e96f0'];
const legBase = [80.5,114,149.5,184,218.5,252.5,286.5];
const legTextX = [517,517,520,520,521,523.5,517];
gL.append('text').attr('x',497).attr('y',47.3).attr('fill','#000').text(legendTitleA);
legendLabelsA.forEach((lab,i) => {
  if (legendSymbolsA[i]) {
    gL.append('text').attr('x',497).attr('y',legBase[i]).attr('fill',legColors[i])
      .attr('font-size', legendSymbolsA[i]==='x' ? 21 : 22).text(legendSymbolsA[i]);
  }
  const t = gL.append('text').attr('x',legTextX[i]).attr('y',legBase[i]).attr('fill',legColors[i]);
  t.append('tspan').text(lab[0]);
  if (lab[1]) t.append('tspan').attr('dy',-9).attr('font-size',13).text(lab[1]);
});
gL.append('rect').attr('x',497.5).attr('y',139.5).attr('width',8.5).attr('height',8.5)
  .attr('fill','none').attr('stroke','#000').attr('stroke-width',1.2);
gL.append('circle').attr('cx',501.5).attr('cy',280.5).attr('r',3.6)
  .attr('fill','none').attr('stroke',legColors[6]).attr('stroke-width',1.2);

svg.append('text').attr('x',8).attr('y',517).attr('font-family',"Lato, 'Noto Sans', sans-serif").attr('font-size',35).attr('fill','#000').text('a)');

// ---------- Panel b ----------
const xB = d3.scaleLinear().domain([0,800]).range([823.5,1336]);
const yB = d3.scaleLinear().domain([0,20]).range([455,58]);
const gB = svg.append('g');
gB.append('g').selectAll('line').data(tickB_X.filter(v=>v>0)).join('line')
  .attr('x1',d=>xB(d)).attr('x2',d=>xB(d)).attr('y1',yB(0)).attr('y2',yB(20))
  .attr('stroke','#e4e4e4').attr('stroke-width',1);
gB.append('g').selectAll('line').data(tickB_Y.filter(v=>v>0)).join('line')
  .attr('x1',xB(0)).attr('x2',xB(800)).attr('y1',d=>yB(d)).attr('y2',d=>yB(d))
  .attr('stroke','#e4e4e4').attr('stroke-width',1);

gB.append('g').selectAll('circle').data(noGrainBoundary).join('circle')
  .attr('cx',d=>xB(d[0])).attr('cy',d=>yB(d[1])).attr('r',1.5).attr('fill','#0000ff');
gB.append('g').selectAll('circle').data(grains3nm).join('circle')
  .attr('cx',d=>xB(d[0])).attr('cy',d=>yB(d[1])).attr('r',1.5).attr('fill','#ff0000');

gB.append('line').attr('x1',xB(0)).attr('x2',xB(0)).attr('y1',yB(0)).attr('y2',yB(20)).attr('stroke',AXIS);
gB.append('line').attr('x1',xB(0)).attr('x2',xB(800)).attr('y1',yB(0)).attr('y2',yB(0)).attr('stroke',AXIS);
gB.append('g').attr('transform',`translate(0,${yB(0)})`)
  .call(d3.axisBottom(xB).tickValues(tickB_X).tickSizeInner(-5).tickSizeOuter(0).tickPadding(12))
  .call(g=>styleAxis(g,18));
gB.append('g').attr('transform',`translate(${xB(0)},0)`)
  .call(d3.axisLeft(yB).tickValues(tickB_Y).tickSizeInner(-5).tickSizeOuter(0).tickPadding(7))
  .call(g=>styleAxis(g,18));

const yl = gB.append('text').attr('transform',`translate(788,256.5) rotate(-90)`).attr('text-anchor','middle')
  .attr('font-family',SANS).attr('font-size',20).attr('fill',TXT);
yl.append('tspan').text('Linewidth (cm');
yl.append('tspan').attr('dy',-8).attr('font-size',14).text('-1');
yl.append('tspan').attr('dy',8).text(')');
const xl = gB.append('text').attr('x',1080).attr('y',508).attr('text-anchor','middle')
  .attr('font-family',SANS).attr('font-size',20).attr('fill',TXT);
xl.append('tspan').attr('font-family',SERIF).attr('font-style','italic').text('\u03C9');
xl.append('tspan').text(' (cm');
xl.append('tspan').attr('dy',-8).attr('font-size',14).text('-1');
xl.append('tspan').attr('dy',8).text(')');

const gLB = svg.append('g');
gLB.append('rect').attr('x',826).attr('y',72).attr('width',330).attr('height',110).attr('fill','#fff');
const t300 = gLB.append('text').attr('x',848).attr('y',94).attr('font-family',SERIF).attr('font-size',24).attr('fill','#000');
t300.append('tspan').text('300');
t300.append('tspan').attr('dx',2).attr('font-style','italic').text('K');
[['#0000ff',130.5,124],['#ff0000',168.3,162.3]].forEach((c,i)=>{
  gLB.append('circle').attr('cx',851).attr('cy',c[2]).attr('r',1.3).attr('fill',c[0]);
  gLB.append('text').attr('x',862).attr('y',c[1]).attr('font-family',SERIF).attr('font-size',24).attr('fill',c[0]).text(legendLabelsB[i]);
});

svg.append('text').attr('x',720).attr('y',517).attr('font-family',"Lato, 'Noto Sans', sans-serif").attr('font-size',35).attr('fill','#000').text('b)');
</script>
</body></html>
